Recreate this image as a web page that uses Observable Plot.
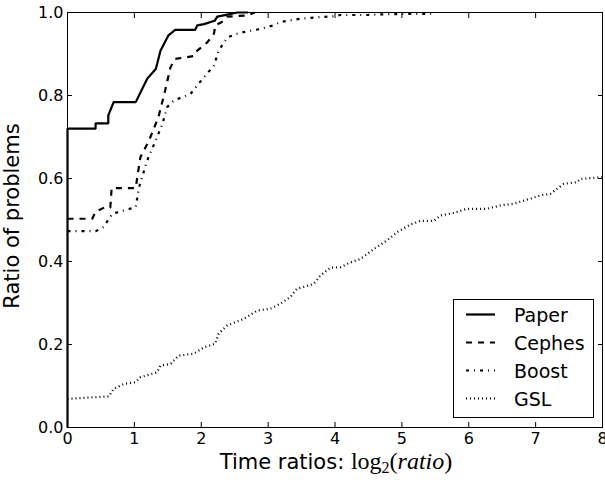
<!DOCTYPE html>
<html><head><meta charset="utf-8">
<script src="https://cdn.jsdelivr.net/npm/d3@7"></script>
<script src="https://cdn.jsdelivr.net/npm/@observablehq/plot@0.6"></script>
<style>body{margin:0;background:#fff} svg{display:block}</style>
</head><body><div id="chart"></div>
<script>
const seriesNames = ["Paper", "Cephes", "Boost", "GSL"];

const paperX = [0,0,0.42,0.42,0.61,0.61,0.69,1.02,1.19,1.32,1.34,1.39,1.51,1.61,1.91,1.94,2.04,2.2,2.24,2.39,2.54,2.7];
const paperY = [0,0.72,0.72,0.733,0.733,0.752,0.784,0.784,0.84,0.864,0.876,0.908,0.945,0.958,0.958,0.969,0.972,0.98,0.99,0.995,1.0,1.0];

const cephesX = [0,0.37,0.42,0.55,0.64,0.66,1.02,1.05,1.09,1.22,1.36,1.46,1.54,1.61,1.89,1.94,2.09,2.19,2.21,2.34,2.39,2.69,2.8];
const cephesY = [0.503,0.503,0.52,0.53,0.53,0.577,0.577,0.61,0.651,0.692,0.748,0.812,0.868,0.888,0.895,0.908,0.928,0.949,0.969,0.98,0.99,0.993,1.0];

const boostX = [0,0.42,0.54,0.67,1.02,1.07,1.19,1.32,1.42,1.49,1.59,1.84,2.04,2.19,2.26,2.39,2.54,2.69,2.88,3.08,3.18,3.48,3.78,3.98,4.08,4.48,4.78,5.47,5.5];
const boostY = [0.473,0.473,0.483,0.515,0.531,0.579,0.643,0.692,0.732,0.772,0.788,0.804,0.844,0.872,0.908,0.94,0.949,0.955,0.96,0.969,0.977,0.985,0.989,0.991,0.994,0.994,0.996,0.997,1.0];

const gslX = [0,0.39,0.62,0.69,0.84,1.02,1.09,1.34,1.39,1.54,1.66,1.89,2.04,2.21,2.26,2.39,2.64,2.84,3.03,3.18,3.33,3.43,3.68,3.78,3.93,4.08,4.23,4.38,4.58,4.78,4.93,5.13,5.28,5.48,5.58,5.78,5.97,6.27,6.47,6.67,6.87,7.07,7.22,7.42,7.62,7.67,7.97,8];
const gslY = [0.069,0.073,0.075,0.093,0.105,0.109,0.121,0.133,0.149,0.153,0.173,0.178,0.193,0.202,0.226,0.246,0.262,0.282,0.286,0.298,0.314,0.334,0.346,0.366,0.385,0.386,0.398,0.406,0.430,0.451,0.471,0.489,0.498,0.498,0.511,0.517,0.527,0.527,0.535,0.539,0.549,0.559,0.563,0.587,0.591,0.599,0.603,0.603];

const xTicks = [0,1,2,3,4,5,6,7,8];
const yTicks = [0,0.2,0.4,0.6,0.8,1.0];
const xLabelText = "Time ratios: ";
const yLabelText = "Ratio of problems";

const seriesData = {Paper: [paperX, paperY], Cephes: [cephesX, cephesY], Boost: [boostX, boostY], GSL: [gslX, gslY]};
const rows = seriesNames.flatMap(name => seriesData[name][0].map((x, i) => ({series: name, x, y: seriesData[name][1][i]})));

const styles = {
  Paper: {strokeDasharray: null},
  Cephes: {strokeDasharray: "6,6"},
  Boost: {strokeDasharray: "3,5,1,5"},
  GSL: {strokeDasharray: "1,3"}
};

const chart = Plot.plot({
  width: 605, height: 480,
  marginLeft: 67, marginRight: 3, marginTop: 12, marginBottom: 53,
  style: {fontFamily: "DejaVu Sans", fontSize: "16px", color: "black", background: "white", overflow: "visible"},
  x: {domain: [0, 8]},
  y: {domain: [0, 1]},
  marks: [
    Plot.frame({stroke: "black", strokeWidth: 1}),
    Plot.axisX({ticks: xTicks, tickSize: 0, tickPadding: 5, tickFormat: d3.format("d"), fontSize: 16, label: null}),
    Plot.axisX({ticks: xTicks, tickSize: 5, dy: -5, fill: "none", label: null}),
    Plot.axisX({ticks: xTicks, anchor: "top", tickSize: 5, dy: 5, fill: "none", label: null}),
    Plot.axisY({ticks: yTicks, tickSize: 0, tickPadding: 4, tickFormat: d3.format(".1f"), fontSize: 16, label: null}),
    Plot.axisY({ticks: yTicks, tickSize: 5, dx: 5, fill: "none", label: null}),
    Plot.axisY({ticks: yTicks, anchor: "right", tickSize: 5, dx: -5, fill: "none", label: null}),
    ...seriesNames.map(name => Plot.line(rows.filter(d => d.series === name), {
      x: "x", y: "y", stroke: "black", strokeWidth: 2.2, strokeLinejoin: "miter", strokeLinecap: "butt",
      ...(styles[name].strokeDasharray ? {strokeDasharray: styles[name].strokeDasharray} : {})
    }))
  ]
});

const svg = d3.select(chart);

// y label
svg.append("text")
  .attr("transform", "translate(19,216) rotate(-90)")
  .attr("text-anchor", "middle")
  .attr("font-family", "DejaVu Sans").attr("font-size", 21).attr("fill", "black")
  .text(yLabelText);

// x label with math part
const xl = svg.append("text")
  .attr("x", 336).attr("y", 469)
  .attr("text-anchor", "middle")
  .attr("font-family", "DejaVu Sans").attr("font-size", 21).attr("fill", "black");
xl.append("tspan").text(xLabelText);
xl.append("tspan").attr("font-family", "Liberation Serif").attr("font-size", 24).text("log");
xl.append("tspan").attr("font-family", "Liberation Serif").attr("font-size", 16).attr("dy", 4).text("2");
xl.append("tspan").attr("font-family", "Liberation Serif").attr("font-size", 24).attr("dy", -4).text("(");
xl.append("tspan").attr("font-family", "Liberation Serif").attr("font-style", "italic").attr("font-size", 24).text("ratio");
xl.append("tspan").attr("font-family", "Liberation Serif").attr("font-size", 24).text(")");

// legend
const lg = svg.append("g");
lg.append("rect").attr("x", 453.5).attr("y", 299.5).attr("width", 140).attr("height", 118)
  .attr("fill", "white").attr("stroke", "black").attr("stroke-width", 1);
seriesNames.forEach((name, i) => {
  const cy = 314.5 + i * 28;
  const ln = lg.append("line").attr("x1", 466).attr("x2", 495).attr("y1", cy).attr("y2", cy)
    .attr("stroke", "black").attr("stroke-width", 2.2);
  if (styles[name].strokeDasharray) ln.attr("stroke-dasharray", styles[name].strokeDasharray);
  lg.append("text").attr("x", 514).attr("y", cy + 7).attr("text-anchor", "start")
    .attr("font-family", "DejaVu Sans").attr("font-size", 19).attr("fill", "black").text(name);
});

document.getElementById("chart").appendChild(chart);
</script>
</body></html>
